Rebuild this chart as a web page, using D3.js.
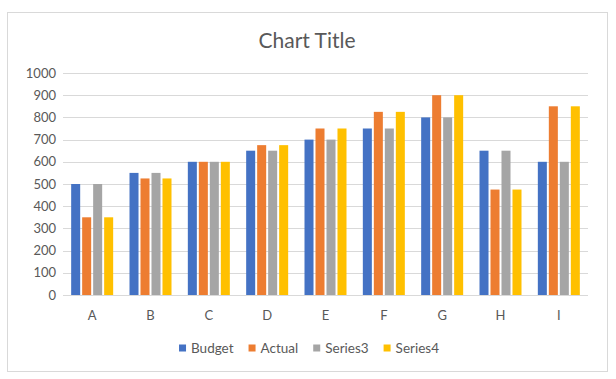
<!DOCTYPE html>
<html>
<head>
<meta charset="utf-8">
<script src="https://cdn.jsdelivr.net/npm/d3@7"></script>
<style>
  body { margin: 0; background: #fff; }
  svg { display: block; font-family: Lato, "Open Sans", sans-serif; }
</style>
</head>
<body>
<svg width="616" height="379"></svg>
<script>
const categories = ["A", "B", "C", "D", "E", "F", "G", "H", "I"];
const seriesNames = ["Budget", "Actual", "Series3", "Series4"];
const budget  = [500, 550, 600, 650, 700, 750, 800, 650, 600];
const actual  = [350, 525, 600, 675, 750, 825, 900, 475, 850];
const series3 = [500, 550, 600, 650, 700, 750, 800, 650, 600];
const series4 = [350, 525, 600, 675, 750, 825, 900, 475, 850];
const yTicks = [0, 100, 200, 300, 400, 500, 600, 700, 800, 900, 1000];
const colors = ["#4472C4", "#ED7D31", "#A5A5A5", "#FFC000"];

const seriesValues = [budget, actual, series3, series4];

const svg = d3.select("svg");
const textColor = "#595959";

// chart border
svg.append("rect")
  .attr("x", 7.5).attr("y", 12.5)
  .attr("width", 600).attr("height", 359)
  .attr("fill", "#fff")
  .attr("stroke", "#D9D9D9");

svg.append("text")
  .attr("x", 307).attr("y", 48)
  .attr("text-anchor", "middle")
  .attr("fill", textColor)
  .style("font-size", "21px")
  .text("Chart Title");

const plot = { left: 63, right: 588, top: 73, bottom: 295 };

const x0 = d3.scaleBand()
  .domain(categories)
  .range([plot.left, plot.right])
  .paddingInner(0.28)
  .paddingOuter(0.14);

const x1 = d3.scaleBand()
  .domain(seriesNames)
  .range([0, x0.bandwidth()])
  .paddingInner(0.18);

const y = d3.scaleLinear()
  .domain([0, 1000])
  .range([plot.bottom, plot.top]);

// gridlines
svg.append("g")
  .selectAll("line")
  .data(yTicks)
  .enter()
  .append("line")
  .attr("x1", plot.left).attr("x2", plot.right)
  .attr("y1", d => Math.round(y(d)) + 0.5)
  .attr("y2", d => Math.round(y(d)) + 0.5)
  .attr("stroke", "#D9D9D9");

// y labels
svg.append("g")
  .selectAll("text")
  .data(yTicks)
  .enter()
  .append("text")
  .attr("x", 56)
  .attr("y", d => y(d))
  .attr("dy", "0.35em")
  .attr("text-anchor", "end")
  .attr("fill", textColor)
  .style("font-size", "13px")
  .text(d => d);

// bars
const groups = svg.append("g")
  .selectAll("g")
  .data(categories)
  .enter()
  .append("g")
  .attr("transform", d => `translate(${x0(d)},0)`);

groups.selectAll("rect")
  .data((c, i) => seriesNames.map((s, j) => ({ s, j, v: seriesValues[j][i] })))
  .enter()
  .append("rect")
  .attr("x", d => x1(d.s))
  .attr("width", x1.bandwidth())
  .attr("y", d => y(d.v))
  .attr("height", d => y(0) - y(d.v))
  .attr("fill", d => colors[d.j]);

// x labels
svg.append("g")
  .selectAll("text")
  .data(categories)
  .enter()
  .append("text")
  .attr("x", d => x0(d) + x0.bandwidth() / 2)
  .attr("y", 315)
  .attr("dy", "0.35em")
  .attr("text-anchor", "middle")
  .attr("fill", textColor)
  .style("font-size", "13px")
  .text(d => d);

// legend
const legend = svg.append("g");
let lx = 0;
seriesNames.forEach((name, i) => {
  const item = legend.append("g").attr("transform", `translate(${lx},0)`);
  item.append("rect")
    .attr("x", 0).attr("y", -3.5)
    .attr("width", 7).attr("height", 7)
    .attr("fill", colors[i]);
  const t = item.append("text")
    .attr("x", 12).attr("y", 0)
    .attr("dy", "0.35em")
    .attr("fill", textColor)
    .style("font-size", "13.5px")
    .text(name);
  lx += 12 + t.node().getComputedTextLength() + 15;
});
const legendWidth = lx - 15;
legend.attr("transform", `translate(${309 - legendWidth / 2},348)`);
</script>
</body>
</html>
